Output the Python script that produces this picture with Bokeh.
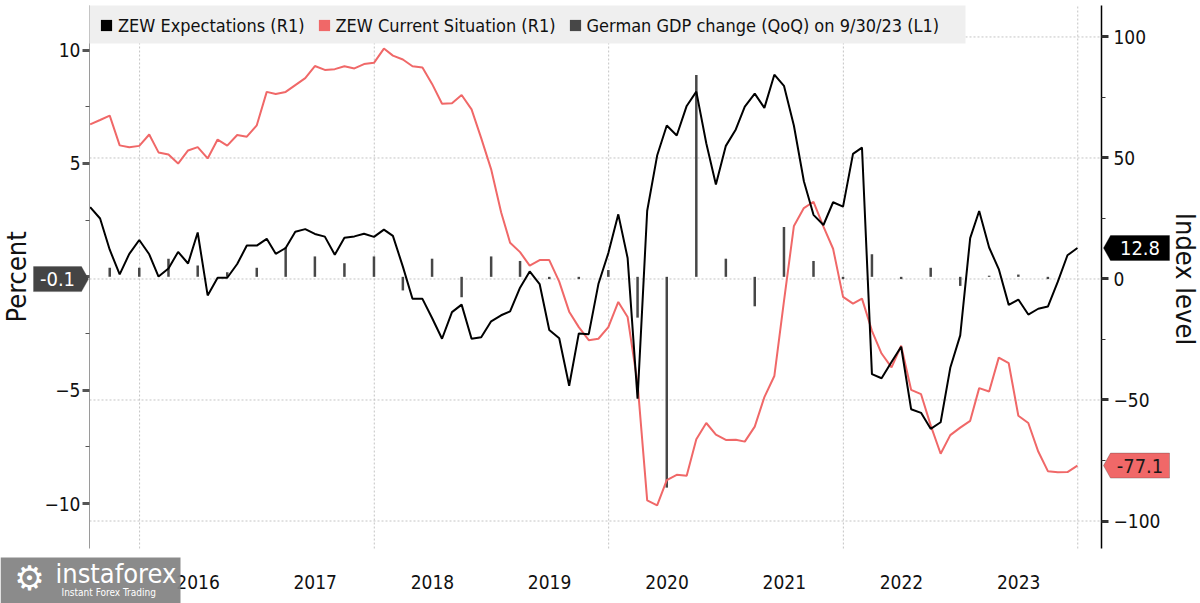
import math
import pandas as pd
from bokeh.plotting import figure
from bokeh.models import (Range1d, LinearAxis, FixedTicker, Legend, LegendItem,
                          Label, PolyAnnotation)
from bokeh.embed import file_html
from bokeh.resources import INLINE

# ---------------- data ----------------
# monthly, Jul 2015 .. Dec 2023
zew_expectations = [
    29.7, 25.0, 12.1, 1.9, 10.4, 16.1,
    10.2, 1.0, 4.3, 11.2, 6.4, 19.2, -6.8, 0.5, 0.5, 6.2, 13.8, 13.8,
    16.6, 10.4, 12.8, 19.5, 20.6, 18.6, 17.5, 10.0, 17.0, 17.6, 18.7, 17.4,
    20.4, 17.8, 5.1, -8.2, -8.2, -16.1, -24.7, -13.7, -10.6, -24.7, -24.1, -17.5,
    -15.0, -13.4, -3.6, 3.1, -2.1, -21.1, -24.5, -44.1, -22.5, -22.8, -2.1, 10.7,
    26.7, 8.7, -49.5, 28.2, 51.0, 63.4, 59.3, 71.5, 77.4, 56.1, 39.0, 55.0,
    61.8, 71.2, 76.6, 70.7, 84.4, 79.8, 63.3, 40.4, 26.5, 22.3, 31.7, 29.9,
    51.7, 54.3, -39.3, -41.0, -34.3, -28.0, -53.8, -55.3, -61.9, -59.2, -36.7, -23.3,
    16.9, 28.1, 13.0, 4.1, -10.7, -8.5, -14.7, -12.3, -11.4, -1.1, 9.8, 12.8]
zew_current = [
    63.9, 65.7, 67.5, 55.2, 54.4, 55.0,
    59.7, 52.3, 51.4, 47.7, 53.1, 54.5, 49.8, 57.6, 55.1, 59.5, 58.8, 63.5,
    77.3, 76.4, 77.3, 80.1, 83.0, 88.0, 86.4, 86.7, 87.9, 87.0, 88.8, 89.3,
    95.2, 92.3, 90.7, 87.9, 87.4, 80.6, 72.4, 72.6, 76.0, 70.1, 58.2, 45.3,
    27.6, 15.0, 11.1, 5.5, 7.8, 7.8, -1.1, -13.5, -19.9, -25.3, -24.7, -19.9,
    -9.5, -15.7, -43.1, -91.5, -93.5, -83.1, -80.9, -81.3, -66.2, -59.5, -64.3, -66.5,
    -66.4, -67.2, -61.0, -48.8, -40.1, -9.1, 21.9, 29.3, 31.9, 21.6, 12.5, -7.4,
    -10.2, -8.1, -21.4, -30.8, -36.5, -27.6, -45.8, -47.6, -60.5, -72.2, -64.5, -61.4,
    -58.6, -45.1, -46.5, -32.5, -34.8, -56.5, -59.5, -71.3, -79.4, -79.9, -79.8, -77.1]
# quarterly, Q3 2015 .. Q3 2023
gdp_qoq = [0.4, 0.4, 0.8, 0.5, 0.2, 0.4, 1.3, 0.9, 0.6, 0.9, -0.6, 0.8, -0.9, 0.9,
           0.7, -0.1, -0.1, 0.3, -1.8, -9.3, 8.9, 0.8, -1.3, 2.2, 0.7, -0.1, 1.0,
           -0.1, 0.4, -0.4, 0.05, 0.1, -0.1]
year_labels = ["2016", "2017", "2018", "2019", "2020", "2021", "2022", "2023"]
grid_years = [2016, 2018, 2020, 2022, 2024]
series_names = ["ZEW Expectations (R1)", "ZEW Current Situation (R1)",
                "German GDP change (QoQ) on 9/30/23 (L1)"]
left_ticks = [-10, -5, 0, 5, 10]
left_minor = [-7.5, -2.5, 2.5, 7.5]
right_ticks = [-100, -50, 0, 50, 100]
right_minor = [-75, -25, 25, 75]

months = pd.date_range("2015-07-01", periods=len(zew_expectations), freq="MS") + pd.offsets.MonthEnd(0)
gdp_dates = months[2::3]

# ---------------- layout ----------------
FONT = "DejaVu Sans Condensed"
RED = "#f06868"
BARC = "#474747"
GRIDC = "#c4c4c4"
W, H = 1200, 603
PX0, PX1, PY0, PY1 = 89, 1101, 5, 548      # plotting area inside the canvas


def ms(s):
    return pd.Timestamp(s).value / 1e6


X0, X1 = ms("2015-07-29"), ms("2024-03-15")
YL0, YL1 = -11.985, 11.97
YR0, YR1 = -111.36, 113.0
MPP = (X1 - X0) / (PX1 - PX0)
PL = (PY1 - PY0) / (YL1 - YL0)
PR = (PY1 - PY0) / (YR1 - YR0)


def fx(px):
    return X0 + (px - PX0) * MPP


def fyl(py):
    return YL1 - (py - PY0) / PL


def fyr(py):
    return YR1 - (py - PY0) / PR


def idx_to_left(v):
    return fyl(PY0 + (YR1 - v) * PR)


p = figure(width=W, height=H, x_axis_type="datetime",
           x_range=Range1d(fx(0), fx(W)), y_range=Range1d(fyl(H), fyl(0)),
           output_backend="svg", toolbar_location=None,
           min_border_left=0, min_border_right=0,
           min_border_top=0, min_border_bottom=0)
p.extra_y_ranges = {"idx": Range1d(fyr(H), fyr(0))}
p.outline_line_color = None
p.background_fill_color = "white"
p.border_fill_color = "white"
p.grid.visible = False

# grid lines limited to the plotting area
vgrid = [pd.Timestamp(f"{y}-01-01") for y in grid_years]
p.segment(x0=vgrid, y0=YR0, x1=vgrid, y1=YR1, y_range_name="idx",
          line_color=GRIDC, line_width=1, line_dash="2 2")
p.segment(x0=X0, y0=right_ticks, x1=X1, y1=right_ticks, y_range_name="idx",
          line_color=GRIDC, line_width=1, line_dash="2 2")

# x axis
xa = p.xaxis[0]
mid_ticks = [ms(f"{y}-07-01") for y in year_labels]
xa.ticker = FixedTicker(ticks=mid_ticks)
xa.major_label_overrides = {t: lab for t, lab in zip(mid_ticks, year_labels)}
xa.fixed_location = YL0
xa.bounds = (X0, X1)
xa.axis_line_color = None
xa.major_tick_line_color = None
xa.minor_tick_line_color = None
xa.major_tick_out = 8
xa.major_tick_in = 0
xa.major_label_standoff = 18
xa.major_label_text_font = FONT
xa.major_label_text_font_size = "19px"
xa.major_label_text_color = "#111111"

# left axis (Percent)
la = p.yaxis[0]
la.ticker = FixedTicker(ticks=left_ticks, minor_ticks=left_minor)
la.major_label_overrides = {0: ""}
la.fixed_location = X0
la.bounds = (YL0, YL1)
la.axis_line_color = "#9a9a9a"
la.major_tick_out = 7
la.major_tick_in = 0
la.major_tick_line_width = 3
la.major_tick_line_color = "#555555"
la.minor_tick_out = 4
la.minor_tick_in = 0
la.minor_tick_line_color = "#555555"
la.major_label_standoff = 2
la.major_label_text_font = FONT
la.major_label_text_font_size = "19px"
la.major_label_text_color = "#111111"

# right axis (Index level)
ra = LinearAxis(y_range_name="idx",
                ticker=FixedTicker(ticks=right_ticks, minor_ticks=right_minor))
ra.fixed_location = X1
ra.bounds = (YR0, YR1)
ra.axis_line_color = "black"
ra.axis_line_width = 1.5
ra.major_tick_out = 7
ra.major_tick_in = 0
ra.major_tick_line_width = 3
ra.major_tick_line_color = "#333333"
ra.minor_tick_out = 4
ra.minor_tick_in = 0
ra.minor_tick_line_color = "#333333"
ra.major_label_standoff = 5
ra.major_label_text_font = FONT
ra.major_label_text_font_size = "19px"
ra.major_label_text_color = "#111111"
p.add_layout(ra, "right")

# ---------------- marks ----------------
p.segment(x0=gdp_dates, y0=0, x1=gdp_dates, y1=gdp_qoq,
          line_color=BARC, line_width=2.5)
p.line(months, zew_current, y_range_name="idx", line_color=RED, line_width=2)
p.line(months, zew_expectations, y_range_name="idx", line_color="black", line_width=2)

# legend background box
p.add_layout(PolyAnnotation(xs=[fx(89), fx(965), fx(965), fx(89)],
                            ys=[fyl(5), fyl(5), fyl(43), fyl(43)],
                            fill_color="#efefef", fill_alpha=1, line_color=None))

# legend with square swatches
nan = float("nan")
sw = []
for c in ["black", RED, BARC]:
    sw.append(p.quad(left=[nan], right=[nan], top=[nan], bottom=[nan],
                     fill_color=c, line_color=None))
LEG_ROW = 21
legend = Legend(items=[LegendItem(label=n, renderers=[r]) for n, r in zip(series_names, sw)],
                location=(99, H - 14.5 - LEG_ROW), orientation="horizontal")
legend.margin = 0
legend.padding = 0
legend.spacing = 12
legend.label_standoff = 5
legend.glyph_width = 14
legend.glyph_height = 14
legend.label_height = LEG_ROW
legend.label_text_font = FONT
legend.label_text_font_size = "18px"
legend.label_text_color = "#111111"
legend.background_fill_alpha = 0
legend.border_line_color = None
p.add_layout(legend)


# ---------------- value badges ----------------
def badge(tip_px, dirn, v_left, label_y, rng, fill, line, txt, txt_color, gap, box_len, half=12.5):
    tip_x = fx(tip_px)
    g = gap * MPP * dirn
    L = (gap + box_len) * MPP * dirn
    h = half / PL
    p.add_layout(PolyAnnotation(xs=[tip_x, tip_x + g, tip_x + L, tip_x + L, tip_x + g],
                                ys=[v_left, v_left + h, v_left + h, v_left - h, v_left - h],
                                fill_color=fill, fill_alpha=1,
                                line_color=line, line_width=1))
    kw = {} if rng is None else {"y_range_name": rng}
    p.add_layout(Label(x=tip_x + (gap + box_len / 2) * MPP * dirn, y=label_y, text=txt,
                       text_align="center", text_baseline="middle",
                       text_color=txt_color, text_font=FONT,
                       text_font_size="20px", **kw))


badge(PX0 - 1, -1, gdp_qoq[-1], gdp_qoq[-1], None, "#444444", "#444444",
      f"{gdp_qoq[-1]:.1f}", "white", 7, 48)
badge(PX1 + 2, 1, idx_to_left(zew_expectations[-1]), zew_expectations[-1], "idx",
      "black", "black", f"{zew_expectations[-1]:.1f}", "white", 7, 59)
badge(PX1 + 2, 1, idx_to_left(zew_current[-1]), zew_current[-1], "idx",
      RED, "#3a3a3a", f"{zew_current[-1]:.1f}", "#1a1a1a", 7, 59)

# axis titles
p.add_layout(Label(x=fx(15.5), y=0, text="Percent", angle=math.pi / 2,
                   text_align="center", text_baseline="middle",
                   text_font=FONT, text_font_size="27px", text_color="#111111"))
p.add_layout(Label(x=fx(1185), y=0, y_range_name="idx", text="Index level",
                   angle=-math.pi / 2, text_align="center", text_baseline="middle",
                   text_font=FONT, text_font_size="27px", text_color="#111111"))

# watermark
p.add_layout(PolyAnnotation(xs=[fx(0), fx(180), fx(180), fx(0)],
                            ys=[fyl(557), fyl(557), fyl(603), fyl(603)],
                            fill_color="#858585", fill_alpha=0.95, line_color=None))
p.add_layout(Label(x=fx(29), y=fyl(577), text="\u2699", text_align="center",
                   text_baseline="middle", text_color="white",
                   text_font="DejaVu Sans", text_font_size="34px"))
p.add_layout(Label(x=fx(55), y=fyl(573), text="instaforex", text_align="left",
                   text_baseline="middle", text_color="white",
                   text_font=FONT, text_font_size="27px"))
p.add_layout(Label(x=fx(61), y=fyl(592), text="Instant Forex Trading", text_align="left",
                   text_baseline="middle", text_color="white",
                   text_font=FONT, text_font_size="10px"))

open("out.html", "w").write(file_html(p, INLINE))
